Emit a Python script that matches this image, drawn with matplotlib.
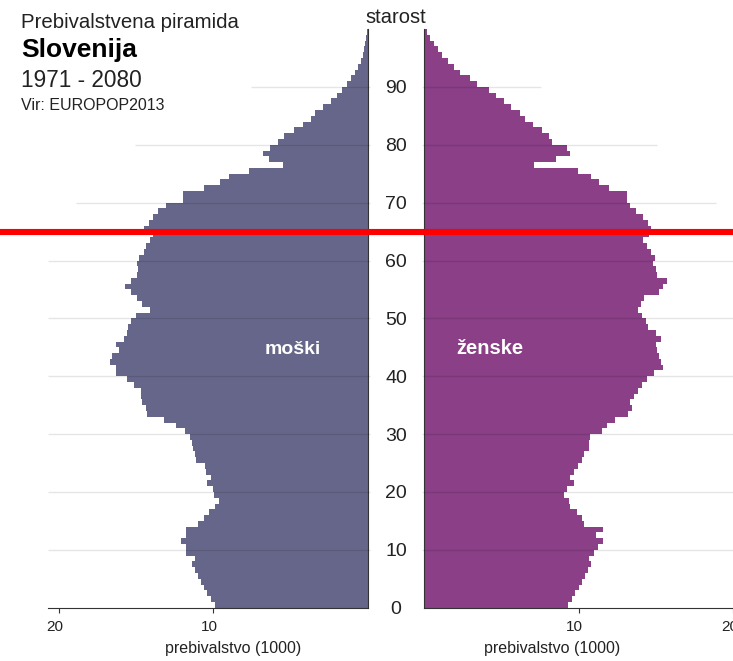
import matplotlib
matplotlib.use('Agg')
from matplotlib import pyplot as plt
from matplotlib import transforms

plt.rcParams['font.family'] = ['Liberation Sans', 'DejaVu Sans']

# data: population by single year of age (thousands)
ages = list(range(100))
moski = [9.9, 10.15, 10.4, 10.6, 10.8, 11.0, 11.2, 11.4, 11.15, 11.75,
         11.75, 12.05, 11.75, 11.75, 10.95, 10.6, 10.3, 9.85, 9.6, 9.95,
         10.0, 10.4, 10.15, 10.45, 10.55, 11.1, 11.15, 11.3, 11.4, 11.5,
         11.8, 12.4, 13.2, 14.3, 14.35, 14.6, 14.7, 14.7, 15.15, 15.6,
         16.3, 16.3, 16.7, 16.55, 16.1, 16.3, 15.8, 15.6, 15.5, 15.3,
         15.0, 14.1, 14.6, 14.9, 15.3, 15.7, 15.35, 14.9, 14.85, 14.9,
         14.8, 14.5, 14.35, 14.1, 13.9, 14.45, 14.15, 13.9, 13.6, 13.05,
         11.95, 11.95, 10.6, 9.55, 9.0, 7.65, 5.45, 6.4, 6.75, 6.35,
         5.8, 5.4, 4.8, 4.2, 3.7, 3.4, 2.9, 2.35, 2.0, 1.65,
         1.35, 1.1, 0.8, 0.6, 0.45, 0.3, 0.22, 0.15, 0.09, 0.05]
zenske = [9.32, 9.53, 9.73, 10.0, 10.2, 10.4, 10.6, 10.8, 10.63, 11.0,
          11.25, 11.55, 11.08, 11.55, 10.36, 10.2, 9.87, 9.42, 9.38, 9.05,
          9.22, 9.68, 9.42, 9.66, 9.97, 10.22, 10.35, 10.65, 10.65, 10.71,
          11.5, 11.84, 12.35, 13.2, 13.47, 13.3, 13.6, 13.8, 14.12, 14.42,
          14.87, 15.42, 15.3, 15.2, 15.09, 14.98, 15.3, 14.98, 14.48, 14.33,
          14.1, 13.83, 14.0, 14.22, 15.2, 15.42, 15.69, 15.04, 14.98, 14.77,
          14.9, 14.7, 14.4, 14.18, 14.55, 14.66, 14.48, 14.15, 13.68, 13.31,
          13.14, 13.1, 11.95, 11.3, 10.76, 9.94, 7.08, 8.49, 9.4, 9.25,
          8.27, 8.05, 7.62, 7.02, 6.54, 6.22, 5.61, 5.13, 4.66, 4.16,
          3.44, 2.97, 2.32, 1.89, 1.5, 1.17, 0.91, 0.63, 0.37, 0.15]
age_ticks = list(range(0, 100, 10))
pop_ticks = [10, 20]
marked_age = 65

male_col = '#656689'
female_col = '#8a3f86'
txt_col = '#222222'
xmax = 20.67

fig = plt.figure(figsize=(7.33, 6.61), dpi=100)
ax_l = fig.add_axes([0.0659, 0.0806, 0.4357, 0.8755])
ax_r = fig.add_axes([0.5789, 0.0806, 0.4357, 0.8755])

ax_l.barh(ages, moski, height=1, align='edge', color=male_col, zorder=2)
ax_r.barh(ages, zenske, height=1, align='edge', color=female_col, zorder=2)

ax_l.set_xlim(xmax, 0)
ax_r.set_xlim(0, xmax)
shift = transforms.ScaledTranslation(-0.04, 0, fig.dpi_scale_trans)
for ax in (ax_l, ax_r):
    ax.set_ylim(0, 100)
    ax.set_facecolor('none')
    ax.spines['top'].set_visible(False)
    ax.spines['bottom'].set_color('#333333')
    ax.set_xticks(pop_ticks)
    ax.tick_params(axis='x', length=3.5, width=0.8, color='#333333',
                   pad=5, labelsize=11, labelcolor=txt_col)
    for lbl in ax.get_xticklabels():
        lbl.set_transform(lbl.get_transform() + shift)

ax_l.spines['left'].set_visible(False)
ax_l.spines['right'].set_color('#333333')
ax_l.set_yticks([])
ax_r.spines['right'].set_visible(False)
ax_r.spines['left'].set_color('#333333')
ax_r.set_yticks(age_ticks)
ax_r.set_yticklabels([str(a) for a in age_ticks])
ax_r.tick_params(axis='y', length=0, pad=20.4, labelsize=14, labelcolor=txt_col)
for lbl in ax_r.get_yticklabels():
    lbl.set_horizontalalignment('center')

# horizontal grid lines (upper ones are shorter)
grid_reach = {70: 18.85, 80: 15.05, 90: 7.55}
for g in age_ticks[1:]:
    reach = grid_reach.get(g, xmax)
    ax_l.hlines(g, -0.17, reach, color='black', alpha=0.1, lw=1,
                zorder=3, clip_on=False)
    ax_r.hlines(g, -0.17, reach, color='black', alpha=0.1, lw=1,
                zorder=3, clip_on=False)

ax_l.text(4.86, 43.85, 'moški', color='white', fontsize=14,
          fontweight='bold', ha='center', va='baseline', zorder=4)
ax_r.text(4.21, 43.85, 'ženske', color='white', fontsize=14.5,
          fontweight='bold', ha='center', va='baseline', zorder=4)

ax_l.text(0.578, -0.0696, 'prebivalstvo (1000)', transform=ax_l.transAxes,
          ha='center', va='center', fontsize=11.5, color=txt_col)
ax_r.text(0.399, -0.0696, 'prebivalstvo (1000)', transform=ax_r.transAxes,
          ha='center', va='center', fontsize=11.5, color=txt_col)

# red marker line across the whole figure
ax_o = fig.add_axes([0, 0.0806, 1, 0.8755], zorder=5)
ax_o.set_ylim(0, 100)
ax_o.axis('off')
ax_o.axhline(marked_age, color='#ff0000', lw=4.4)

fig.text(0.540, 0.9657, 'starost', ha='center', va='baseline',
         fontsize=14.5, color=txt_col)

fig.text(0.0283, 0.9576, 'Prebivalstvena piramida', fontsize=14.7,
         color=txt_col, va='baseline')
fig.text(0.0283, 0.9138, 'Slovenija', fontsize=19, fontweight='bold',
         color='black', va='baseline')
fig.text(0.0283, 0.8684, '1971 - 2080', fontsize=16.3,
         color=txt_col, va='baseline')
fig.text(0.0283, 0.8336, 'Vir: EUROPOP2013', fontsize=11.5,
         color=txt_col, va='baseline')

fig.savefig('out.png', dpi=100)
